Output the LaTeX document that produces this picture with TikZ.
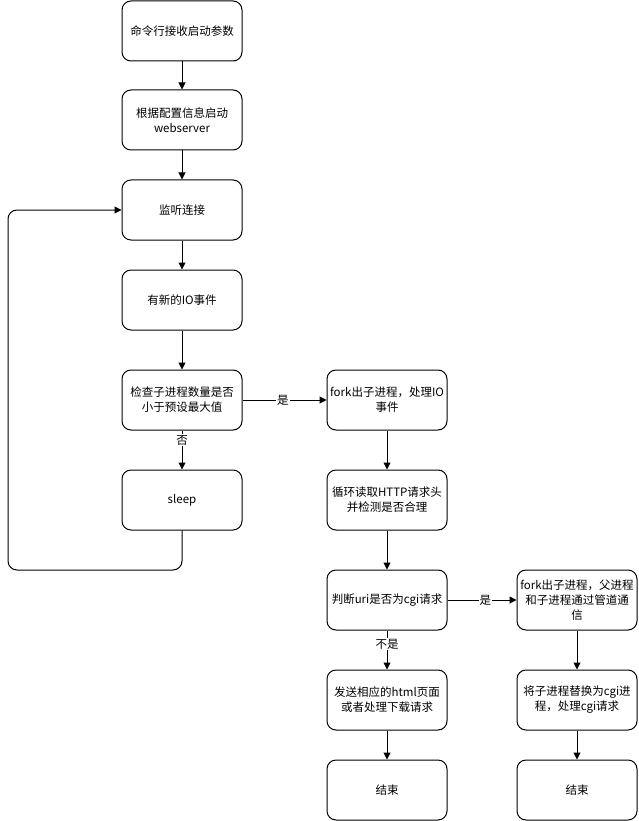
\documentclass[tikz,border=0pt]{standalone}
\usepackage{fontspec}
\setmainfont{Noto Sans CJK SC}
\usetikzlibrary{arrows.meta}
\begin{document}
\begin{tikzpicture}[x=1pt,y=-1pt,
  box/.style={draw,line width=1pt,rounded corners=9pt,minimum width=120pt,minimum height=60pt,align=center,font=\fontsize{11.5}{15}\selectfont,inner sep=1pt},
  arr/.style={line width=1pt,-{Triangle[length=7pt,width=7pt]}},
  lbl/.style={fill=white,inner sep=1pt,font=\fontsize{11.5}{14}\selectfont}]
\useasboundingbox (0,0) rectangle (638,821);
\node[box] (a) at (182,31) {命令行接收启动参数};
\node[box] (b) at (182,120) {根据配置信息启动\\webserver};
\node[box] (c) at (182,210) {监听连接};
\node[box] (d) at (182,300) {有新的IO事件};
\node[box] (e) at (182,400) {检查子进程数量是否\\小于预设最大值};
\node[box] (f) at (182,500) {sleep};
\node[box] (g) at (387,400) {fork出子进程，处理IO\\事件};
\node[box] (h) at (387,500) {循环读取HTTP请求头\\并检测是否合理};
\node[box] (i) at (387,600) {判断uri是否为cgi请求};
\node[box] (j) at (387,700) {发送相应的html页面\\或者处理下载请求};
\node[box] (k) at (387,790) {结束};
\node[box] (l) at (577,600) {fork出子进程，父进程\\和子进程通过管道通\\信};
\node[box] (m) at (577,700) {将子进程替换为cgi进\\程，处理cgi请求};
\node[box] (n) at (577,790) {结束};
\coordinate (p1) at (182,570);
\coordinate (p2) at (8,570);
\coordinate (p3) at (8,210);
\draw[arr] (a) -- (b);
\draw[arr] (b) -- (c);
\draw[arr] (c) -- (d);
\draw[arr] (d) -- (e);
\draw[arr] (e) -- node[lbl,pos=0.25]{否} (f);
\draw[arr] (e) -- node[lbl,pos=0.48]{是} (g);
\draw[arr] (g) -- (h);
\draw[arr] (h) -- (i);
\draw[arr] (i) -- node[lbl,pos=0.35]{不是} (j);
\draw[arr] (i) -- node[lbl,pos=0.55]{是} (l);
\draw[arr] (j) -- (k);
\draw[arr] (l) -- (m);
\draw[arr] (m) -- (n);
\draw[arr,rounded corners=9pt] (f.south) -- (p1) -- (p2) -- (p3) -- (c.west);
\end{tikzpicture}
\end{document}
